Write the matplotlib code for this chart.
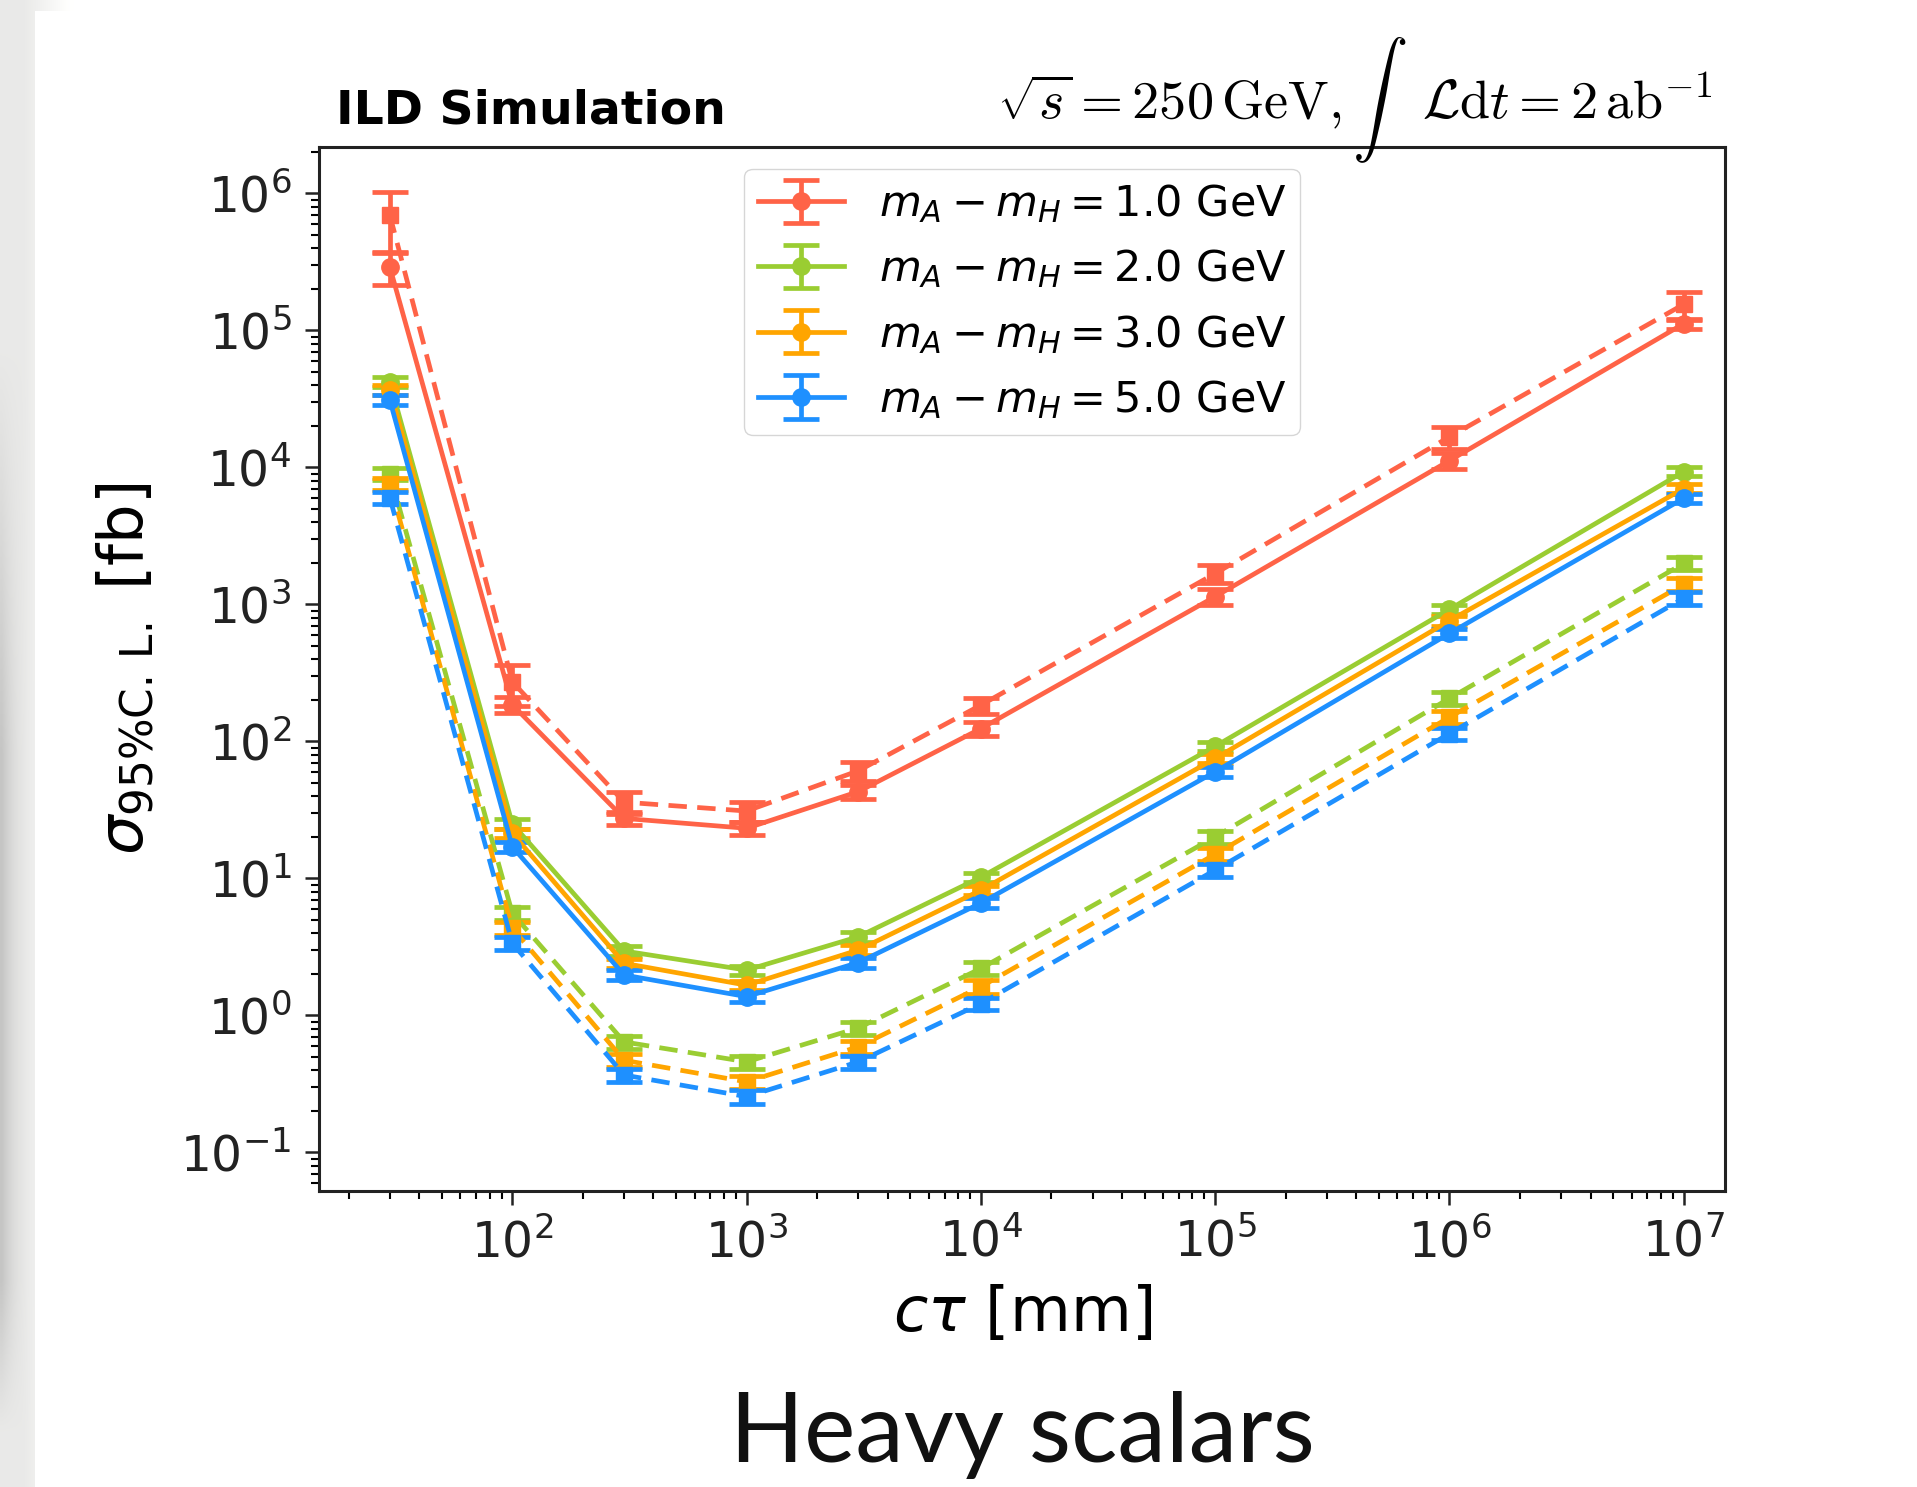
import numpy as np
import matplotlib
matplotlib.use("Agg")
import matplotlib.pyplot as plt
from matplotlib.ticker import LogLocator, NullFormatter
from matplotlib.patches import Rectangle

# ---------------- data ----------------
ctau = [30, 100, 300, 1000, 3000, 1e4, 1e5, 1e6, 1e7]
mass_labels = ["1.0", "2.0", "3.0", "5.0"]
colors = ["tomato", "yellowgreen", "orange", "dodgerblue"]

red_solid = [2.9e5, 185, 27.4, 23.2, 43, 124, 1140, 1.12e4, 1.12e5]
red_solid_err = [0.75e5, 25, 3.0, 2.6, 5, 14, 145, 1.5e3, 1.0e4]
green_solid = [4.2e4, 25, 2.95, 2.14, 3.75, 10.2, 92, 920, 9.3e3]
green_solid_err = [3.5e3, 2.0, 0.25, 0.17, 0.3, 0.8, 7, 70, 700]
orange_solid = [3.7e4, 21.3, 2.4, 1.66, 3.0, 8.2, 75, 760, 7.0e3]
orange_solid_err = [3.0e3, 1.7, 0.2, 0.13, 0.24, 0.65, 6, 60, 550]
blue_solid = [3.1e4, 17, 1.97, 1.37, 2.43, 6.6, 60, 614, 5.95e3]
blue_solid_err = [2.5e3, 1.4, 0.16, 0.11, 0.2, 0.53, 5, 50, 480]

red_dashed = [6.95e5, 272, 36, 31, 61, 184, 1680, 1.67e4, 1.55e5]
red_dashed_err = [3.2e5, 90, 6.5, 5, 10, 25, 250, 3.0e3, 3.5e4]
green_dashed = [9.0e3, 5.56, 0.64, 0.458, 0.81, 2.2, 20.1, 206, 1.99e3]
green_dashed_err = [900, 0.6, 0.07, 0.05, 0.09, 0.24, 2.2, 22, 220]
orange_dashed = [7.6e3, 4.32, 0.47, 0.327, 0.59, 1.62, 15, 150, 1.4e3]
orange_dashed_err = [760, 0.45, 0.05, 0.035, 0.065, 0.18, 1.6, 16, 150]
blue_dashed = [6.0e3, 3.36, 0.367, 0.255, 0.458, 1.22, 11.5, 114, 1.11e3]
blue_dashed_err = [600, 0.35, 0.04, 0.028, 0.05, 0.13, 1.2, 12, 120]

solid = [(red_solid, red_solid_err), (green_solid, green_solid_err),
         (orange_solid, orange_solid_err), (blue_solid, blue_solid_err)]
dashed = [(red_dashed, red_dashed_err), (green_dashed, green_dashed_err),
          (orange_dashed, orange_dashed_err), (blue_dashed, blue_dashed_err)]

# ---------------- figure ----------------
W, H = 1917, 1487
fig = plt.figure(figsize=(W / 100, H / 100), dpi=100)
fig.patch.set_facecolor("#e8e8e6")

# background card with soft shadow
bg = fig.add_axes([0, 0, 1, 1], zorder=-10)
bg.set_xlim(0, W)
bg.set_ylim(H, 0)
bg.axis("off")
img = np.ones((H // 4 + 1, W // 4 + 1, 3))
yy, xx = np.mgrid[0:img.shape[0], 0:img.shape[1]] * 4.0
base = np.full(xx.shape, 0.915)
left_shade = np.clip(1 - xx / 30.0, 0, 1)
vert = np.clip((yy - 350) / 400.0, 0, 1) * np.clip((1430 - yy) / 150.0, 0, 1)
base = base - 0.14 * left_shade ** 2 * vert
base = np.where(xx > 22, base + (xx - 22) / 13 * 0.025, base)
img[..., 0] = base
img[..., 1] = base
img[..., 2] = base * 0.995
bg.imshow(np.clip(img, 0, 1), extent=[0, W, H, 0], aspect="auto", interpolation="bilinear")
bg.add_patch(Rectangle((35, 11), W - 35, H - 11, facecolor="white", edgecolor="none"))

ax = fig.add_axes([319.3 / W, 1 - 1190.7 / H, 1405.7 / W, 1043.7 / H])
ax.set_xscale("log")
ax.set_yscale("log")

lw = 3.4
handles = []
for (vals, errs), (dv, de), c, m in zip(solid, dashed, colors, mass_labels):
    h = ax.errorbar(ctau, vals, yerr=errs, color=c, marker="o", ms=12.5, lw=lw,
                    elinewidth=lw, capsize=13, capthick=lw,
                    label=r"$m_A - m_H = %s$ GeV" % m)
    handles.append(h)
    ax.errorbar(ctau, dv, yerr=de, color=c, marker="s", ms=12, lw=lw,
                ls=(0, (3.9, 2.2)), elinewidth=lw, capsize=13, capthick=lw)

ax.set_xlim(15, 1.5e7)
ax.set_ylim(0.0525, 2.18e6)

ax.xaxis.set_major_locator(LogLocator(base=10, numticks=20))
ax.yaxis.set_major_locator(LogLocator(base=10, numticks=20))
ax.xaxis.set_minor_locator(LogLocator(base=10, subs=np.arange(2, 10), numticks=40))
ax.yaxis.set_minor_locator(LogLocator(base=10, subs=np.arange(2, 10), numticks=40))
ax.xaxis.set_minor_formatter(NullFormatter())
ax.yaxis.set_minor_formatter(NullFormatter())

for s in ax.spines.values():
    s.set_linewidth(2.2)
    s.set_color("#222222")
ax.tick_params(which="major", length=10, width=1.8, pad=10, labelsize=35, colors="#222222")
ax.tick_params(which="minor", length=5.5, width=1.5)

ax.set_xlabel(r"$c\tau$ [mm]", fontsize=45, labelpad=12)
ax.set_ylabel(r"$\sigma_{95\%\mathrm{C.\,L.}}$ [fb]", fontsize=45)
ax.yaxis.set_label_coords(-0.116, 0.5)

leg = ax.legend(handles=handles, loc="upper center", fontsize=31, frameon=True,
                fancybox=True, framealpha=0.8, edgecolor="#cccccc",
                handlelength=2.0, borderpad=0.32, labelspacing=0.52)

fig.text(336 / W, 1 - 123.5 / H, "ILD Simulation", fontsize=34, fontweight="bold",
         ha="left", va="baseline")

# energy / luminosity label, composed to control spacing around the integral
renderer = fig.canvas.get_renderer()
yb = 1 - 118.6 / H
t3 = fig.text(1712 / W, yb, r"$\mathcal{L}\mathrm{d}t = 2\,\mathrm{ab}^{-1}$",
              fontsize=39, ha="right", va="baseline", math_fontfamily="cm")
bb3 = t3.get_window_extent(renderer)
t2 = fig.text((bb3.x0 - 16) / W, yb, r"$\int$", fontsize=40,
              ha="right", va="baseline", math_fontfamily="cm")
bb2 = t2.get_window_extent(renderer)
fig.text((bb2.x0 - 10) / W, yb, r"$\sqrt{s} = 250\,\mathrm{GeV},$",
         fontsize=39, ha="right", va="baseline", math_fontfamily="cm")

fig.text(1022 / W, 1 - 1462 / H, "Heavy scalars", fontsize=70, family="Lato",
         ha="center", va="baseline", color="#111111")

fig.savefig("out.png", dpi=100, facecolor=fig.get_facecolor())
